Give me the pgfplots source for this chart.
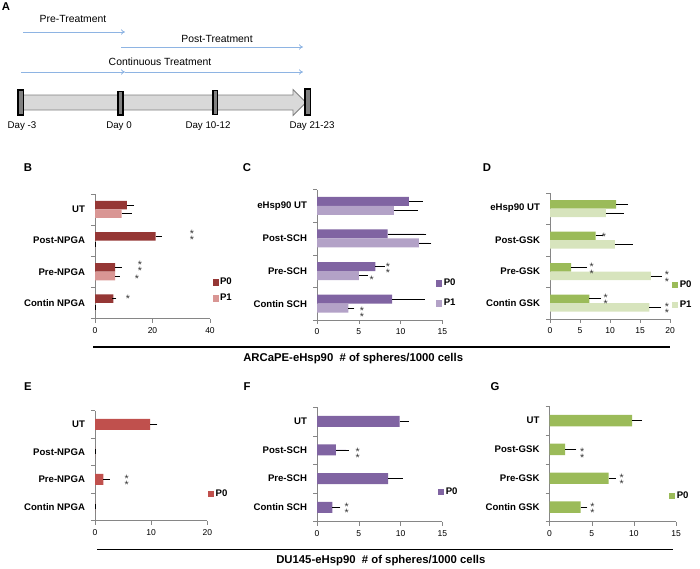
\documentclass[border=0pt]{standalone}
\usepackage{pgfplots}
\pgfplotsset{compat=1.18}
\usepackage{fontspec}
\setmainfont{Liberation Sans}
\usetikzlibrary{arrows.meta}

\definecolor{axgrey}{HTML}{868686}
\definecolor{redA}{HTML}{953735}
\definecolor{redB}{HTML}{D99694}
\definecolor{redE}{HTML}{C0504D}
\definecolor{purA}{HTML}{8064A2}
\definecolor{purB}{HTML}{B3A2C7}
\definecolor{grnA}{HTML}{9BBB59}
\definecolor{grnB}{HTML}{D7E4BD}
\definecolor{arrblue}{HTML}{8EB4E3}

% single star and stacked pair of stars (glyph centre at the coordinate)
\tikzset{
  st/.style={font=\fontsize{8}{8}\selectfont, text=black!80, inner sep=0pt, anchor=base, yshift=-4.6pt},
  dst/.style={font=\fontsize{8}{8}\selectfont, text=black!80, inner sep=0pt, anchor=base, yshift=-6.9pt},
}
\newcommand{\two}{\rlap{\raisebox{4.6pt}{*}}*}

\pgfplotsset{
  panel/.style={
    xbar, scale only axis, anchor=south west, clip=false,
    axis x line*=bottom, axis y line*=left,
    axis line style={draw=axgrey},
    ymin=-0.5, ymax=3.5, xmin=0,
    ytick={-0.5,0.5,1.5,2.5,3.5}, yticklabels={},
    major tick length=3pt, tick align=outside,
    tick style={draw=axgrey},
    extra y ticks={0,1,2,3},
    extra y tick style={major tick length=0pt},
    yticklabel style={font=\bfseries\fontsize{7.2}{8.5}\selectfont, xshift=-4pt},
    xticklabel style={font=\fontsize{6.4}{7.5}\selectfont},
    /pgf/number format/assume math mode=true,
    error bars/error bar style={draw=black, line width=0.45pt},
    error bars/error mark options={draw=black, mark size=1.8pt, line width=0.45pt},
    legend style={draw=none, fill=none, inner sep=0pt, anchor=west,
      font=\bfseries\fontsize{7.2}{8.5}\selectfont, nodes={inner sep=1pt}},
    legend cell align=left,
    legend image code/.code={\fill[##1] (0pt,-2.3pt) rectangle (4.6pt,2.3pt);},
  },
  eb/.style={error bars/.cd, x dir=plus, x explicit},
}

\begin{document}
\begin{tikzpicture}
\useasboundingbox (0,0) rectangle (525pt,-426pt);

% ---------- A: timeline
\begin{scope}[x=0.75pt, y=-0.75pt]
  \node[font=\bfseries\fontsize{8.5}{10}\selectfont] at (6,7) {A};
  \node[font=\fontsize{7.8}{9}\selectfont] at (73,19) {Pre-Treatment};
  \node[font=\fontsize{7.8}{9}\selectfont] at (217,39) {Post-Treatment};
  \node[font=\fontsize{7.8}{9}\selectfont] at (160,62) {Continuous Treatment};
  \draw[arrblue, line width=0.6pt, -{To[length=3pt,width=4pt]}] (23,32) -- (125,32);
  \draw[arrblue, line width=0.6pt, -{To[length=3pt,width=4pt]}] (121,47) -- (303,47);
  \draw[arrblue, line width=0.6pt, -{To[length=3pt,width=4pt]}] (21,72) -- (125,72);
  \draw[arrblue, line width=0.6pt, -{To[length=3pt,width=4pt]}] (125,72) -- (303,72);
  \draw[fill=black!15, draw=black!50, line width=0.6pt]
    (21,95) -- (293,95) -- (293,89.5) -- (306,102.5) -- (293,115.5) -- (293,110) -- (21,110) -- cycle;
  \foreach \a/\b/\c/\d in {18/90/23.5/115, 118/91.5/123/115, 213/90.5/217.5/114.5, 305/89/310.5/115}
    \draw[fill=black!50, draw=black, line width=0.8pt] (\a,\b) rectangle (\c,\d);
  \foreach \p/\t in {22/{Day -3}, 119/{Day 0}, 208/{Day 10-12}, 312/{Day 21-23}}
    \node[font=\fontsize{7.3}{9}\selectfont] at (\p,126) {\t};
  % panel letters
  \foreach \p/\q/\t in {28/168/B, 247/168/C, 487/168/D, 28/387/E, 247/387/F, 495/387/G}
    \node[font=\bfseries\fontsize{8.5}{10}\selectfont] at (\p,\q) {\t};
  % group lines and titles
  \draw[line width=1.2pt] (93,347) -- (670,347);
  \draw[line width=1.2pt] (97,549.3) -- (673,549.3);
  \node[anchor=west, inner sep=0pt, font=\bfseries\fontsize{8.5}{10}\selectfont] at (243,358.5)
    {ARCaPE-eHsp90 \ \# of spheres/1000 cells};
  \node[anchor=west, inner sep=0pt, font=\bfseries\fontsize{8.5}{10}\selectfont] at (276,560.5)
    {DU145-eHsp90 \ \# of spheres/1000 cells};
\end{scope}

% ---------- B
\begin{axis}[panel, at={(95*0.75pt,-318.5*0.75pt)}, width=115*0.75pt, height=124.7*0.75pt,
  xmax=40, xtick={0,20,40}, bar width=6.4pt,
  extra y tick labels={Contin NPGA,Pre-NPGA,Post-NPGA,UT},
  legend style={at={(1.02,0.225)}, row sep=3.5pt}]
\addplot[fill=redA, draw=none, bar shift=3.2pt, eb] coordinates
  {(11.1,3) +- (1.7,0) (21.1,2) +- (1.2,0) (7.0,1) +- (1.4,0) (6.4,0) +- (0.2,0)};
\addplot[fill=redB, draw=none, bar shift=-3.2pt, eb] coordinates
  {(9.3,3) +- (2.6,0) (0,2) +- (0,0) (7.0,1) +- (0.7,0) (0,0) +- (0,0)};
\legend{P0,P1}
\node[dst] at (axis cs:33.7,2.196) {\two};
\node[dst] at (axis cs:15.65,1.218) {\two};
\node[st] at (axis cs:14.6,0.843) {*};
\node[st] at (axis cs:11.5,0.202) {*};
\end{axis}

% ---------- C
\begin{axis}[panel, at={(317*0.75pt,-320*0.75pt)}, width=125.3*0.75pt, height=130.5*0.75pt,
  xmax=15, xtick={0,5,10,15}, bar width=6.75pt,
  extra y tick labels={Contin SCH,Pre-SCH,Post-SCH,eHsp90 UT},
  legend style={at={(0.95,0.203)}, row sep=6.5pt}]
\addplot[fill=purA, draw=none, bar shift=3.4pt, eb] coordinates
  {(11.0,3) +- (1.4,0) (8.45,2) +- (4.35,0) (7.0,1) +- (0.8,0) (9.0,0) +- (3.6,0)};
\addplot[fill=purB, draw=none, bar shift=-3.4pt, eb] coordinates
  {(9.2,3) +- (2.6,0) (12.2,2) +- (1.2,0) (5.0,1) +- (0.8,0) (3.75,0) +- (0.45,0)};
\legend{P0,P1}
\node[dst] at (axis cs:8.48,1.116) {\two};
\node[st] at (axis cs:6.54,0.817) {*};
\node[dst] at (axis cs:5.38,-0.223) {\two};
\end{axis}

% ---------- D
\begin{axis}[panel, at={(550*0.75pt,-318.8*0.75pt)}, width=120*0.75pt, height=126*0.75pt,
  xmax=20, xtick={0,5,10,15,20}, bar width=6.4pt,
  extra y tick labels={Contin GSK,Pre-GSK,Post-GSK,eHsp90 UT},
  legend style={at={(1.017,0.187)}, row sep=6.5pt}]
\addplot[fill=grnA, draw=none, bar shift=3.2pt, eb] coordinates
  {(11.0,3) +- (1.6,0) (7.6,2) +- (0.8,0) (3.5,1) +- (2.3,0) (6.55,0) +- (1.55,0)};
\addplot[fill=grnB, draw=none, bar shift=-3.2pt, eb] coordinates
  {(9.3,3) +- (2.6,0) (10.8,2) +- (2.6,0) (16.8,1) +- (1.4,0) (16.55,0) +- (1.55,0)};
\legend{P0,P1}
\node[st] at (axis cs:9.0,2.192) {*};
\node[dst] at (axis cs:6.95,1.118) {\two};
\node[dst] at (axis cs:19.5,0.863) {\two};
\node[dst] at (axis cs:9.28,0.161) {\two};
\node[dst] at (axis cs:19.5,-0.137) {\two};
\end{axis}

% ---------- E
\begin{axis}[panel, at={(95*0.75pt,-520.5*0.75pt)}, width=112.3*0.75pt, height=110*0.75pt,
  xmax=20, xtick={0,10,20}, bar width=8.25pt,
  extra y tick labels={Contin NPGA,Pre-NPGA,Post-NPGA,UT},
  legend style={at={(1.006,0.241)}}]
\addplot[fill=redE, draw=none, bar shift=0pt, eb] coordinates
  {(9.8,3) +- (0.9,0) (0,2) +- (0,0) (1.5,1) +- (0.7,0) (0,0) +- (0,0)};
\legend{P0}
\node[dst] at (axis cs:5.64,0.984) {\two};
\end{axis}

% ---------- F
\begin{axis}[panel, at={(317*0.75pt,-521.6*0.75pt)}, width=125.3*0.75pt, height=114.6*0.75pt,
  xmax=15, xtick={0,5,10,15}, bar width=8.25pt,
  extra y tick labels={Contin SCH,Pre-SCH,Post-SCH,UT},
  legend style={at={(0.966,0.261)}}]
\addplot[fill=purA, draw=none, bar shift=0pt, eb] coordinates
  {(9.9,3) +- (0.8,0) (2.25,2) +- (1.25,0) (8.5,1) +- (1.5,0) (1.85,0) +- (0.65,0)};
\legend{P0}
\node[dst] at (axis cs:4.87,1.927) {\two};
\node[dst] at (axis cs:3.55,0.004) {\two};
\end{axis}

% ---------- G
\begin{axis}[panel, at={(549.5*0.75pt,-521.5*0.75pt)}, width=126.5*0.75pt, height=115.4*0.75pt,
  xmax=15, xtick={0,5,10,15}, bar width=8.6pt,
  extra y tick labels={Contin GSK,Pre-GSK,Post-GSK,UT},
  legend style={at={(0.945,0.224)}}]
\addplot[fill=grnA, draw=none, bar shift=0pt, eb] coordinates
  {(9.8,3) +- (0.9,0) (1.85,2) +- (1.05,0) (7.0,1) +- (0.55,0) (3.7,0) +- (0.5,0)};
\legend{P0}
\node[dst] at (axis cs:3.89,1.909) {\two};
\node[dst] at (axis cs:8.56,0.996) {\two};
\node[dst] at (axis cs:5.08,0.003) {\two};
\end{axis}
\end{tikzpicture}
\end{document}
